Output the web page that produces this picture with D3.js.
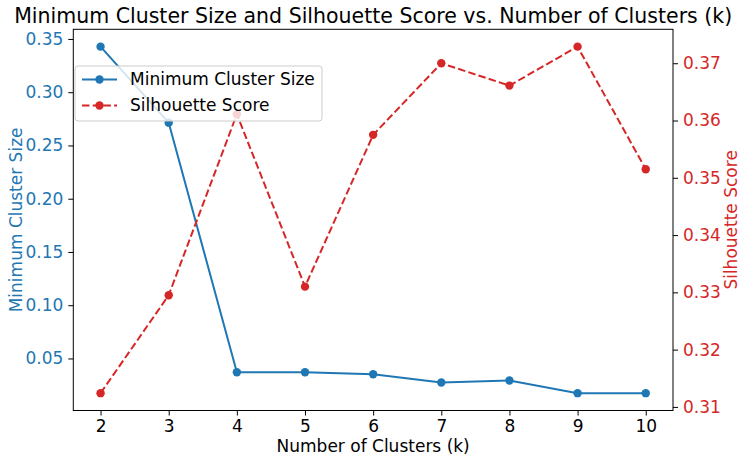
<!DOCTYPE html>
<html>
<head>
<meta charset="utf-8">
<script src="https://cdn.jsdelivr.net/npm/d3@7"></script>
<style>
  body { margin: 0; background: #fff; }
  svg { font-family: "DejaVu Sans", sans-serif; }
</style>
</head>
<body>
<svg id="chart" width="747" height="463"></svg>
<script>
const kValues = [2, 3, 4, 5, 6, 7, 8, 9, 10];
const minClusterSize = [0.3428, 0.2714, 0.0371, 0.0371, 0.0352, 0.0274, 0.0293, 0.0174, 0.0174];
const silhouette = [0.3124, 0.3295, 0.3611, 0.3310, 0.3575, 0.3700, 0.3661, 0.3729, 0.3515];
const leftTicks = [0.05, 0.10, 0.15, 0.20, 0.25, 0.30, 0.35];
const rightTicks = [0.31, 0.32, 0.33, 0.34, 0.35, 0.36, 0.37];

const blue = "#1f77b4", red = "#d62728";
const plotL = 73.3, plotR = 673, plotT = 29.3, plotB = 410.5;

const svg = d3.select("#chart");

// matplotlib-style 5% margins
function padded(vals) {
  const lo = d3.min(vals), hi = d3.max(vals), m = (hi - lo) * 0.05;
  return [lo - m, hi + m];
}

const x = d3.scaleLinear().domain(padded(kValues)).range([plotL, plotR]);
const yL = d3.scaleLinear().domain(padded(minClusterSize)).range([plotB, plotT]);
const yR = d3.scaleLinear().domain(padded(silhouette)).range([plotB, plotT]);

// axes
const xAxis = svg.append("g")
  .attr("transform", `translate(0,${plotB})`)
  .call(d3.axisBottom(x).tickValues(kValues).tickFormat(d3.format("d")).tickSizeOuter(0).tickSize(5).tickPadding(4));
const lAxis = svg.append("g")
  .attr("transform", `translate(${plotL},0)`)
  .call(d3.axisLeft(yL).tickValues(leftTicks).tickFormat(d3.format(".2f")).tickSizeOuter(0).tickSize(5).tickPadding(5));
const rAxis = svg.append("g")
  .attr("transform", `translate(${plotR},0)`)
  .call(d3.axisRight(yR).tickValues(rightTicks).tickFormat(d3.format(".2f")).tickSizeOuter(0).tickSize(5).tickPadding(5));

[xAxis, lAxis, rAxis].forEach(g => {
  g.select(".domain").remove();
  g.selectAll(".tick line").attr("stroke", "#000").attr("stroke-width", 1);
  g.selectAll(".tick text").style("font-size", "17px").style("font-family", "DejaVu Sans");
});
xAxis.selectAll(".tick text").attr("fill", "#000");
lAxis.selectAll(".tick text").attr("fill", blue);
rAxis.selectAll(".tick text").attr("fill", red);

// frame
svg.append("rect")
  .attr("x", plotL).attr("y", plotT)
  .attr("width", plotR - plotL).attr("height", plotB - plotT)
  .attr("fill", "none").attr("stroke", "#000").attr("stroke-width", 1);

// lines
const lineL = d3.line().x((d, i) => x(kValues[i])).y(d => yL(d));
const lineR = d3.line().x((d, i) => x(kValues[i])).y(d => yR(d));

svg.append("path").datum(minClusterSize)
  .attr("d", lineL).attr("fill", "none")
  .attr("stroke", blue).attr("stroke-width", 2);
svg.selectAll(".ptL").data(minClusterSize).enter().append("circle")
  .attr("cx", (d, i) => x(kValues[i])).attr("cy", d => yL(d))
  .attr("r", 4.2).attr("fill", blue);

svg.append("path").datum(silhouette)
  .attr("d", lineR).attr("fill", "none")
  .attr("stroke", red).attr("stroke-width", 2)
  .attr("stroke-dasharray", "7.5,3.2");
svg.selectAll(".ptR").data(silhouette).enter().append("circle")
  .attr("cx", (d, i) => x(kValues[i])).attr("cy", d => yR(d))
  .attr("r", 4.2).attr("fill", red);

// titles
svg.append("text")
  .attr("x", (plotL + plotR) / 2).attr("y", 22.5)
  .attr("text-anchor", "middle")
  .style("font-size", "20.5px")
  .text("Minimum Cluster Size and Silhouette Score vs. Number of Clusters (k)");

svg.append("text")
  .attr("x", (plotL + plotR) / 2).attr("y", 452)
  .attr("text-anchor", "middle")
  .style("font-size", "17px")
  .text("Number of Clusters (k)");

svg.append("text")
  .attr("transform", `translate(22,${(plotT + plotB) / 2}) rotate(-90)`)
  .attr("text-anchor", "middle")
  .attr("fill", blue)
  .style("font-size", "17px")
  .text("Minimum Cluster Size");

svg.append("text")
  .attr("transform", `translate(737,${(plotT + plotB) / 2}) rotate(-90)`)
  .attr("text-anchor", "middle")
  .attr("fill", red)
  .style("font-size", "17px")
  .text("Silhouette Score");

// legend
const legend = svg.append("g").attr("transform", "translate(75,66)");
legend.append("rect")
  .attr("width", 247).attr("height", 55).attr("rx", 3)
  .attr("fill", "#fff").attr("fill-opacity", 0.8)
  .attr("stroke", "#ccc").attr("stroke-width", 1);

const legendItems = [
  { label: "Minimum Cluster Size", color: blue, dash: null },
  { label: "Silhouette Score", color: red, dash: "7.5,3.2" }
];
const item = legend.selectAll(".item").data(legendItems).enter().append("g")
  .attr("transform", (d, i) => `translate(0,${13.5 + i * 26})`);
item.append("line")
  .attr("x1", 7).attr("x2", 42)
  .attr("stroke", d => d.color).attr("stroke-width", 2)
  .attr("stroke-dasharray", d => d.dash);
item.append("circle").attr("cx", 24.5).attr("r", 4.2).attr("fill", d => d.color);
item.append("text")
  .attr("x", 55).attr("dy", "0.35em")
  .style("font-size", "17px")
  .text(d => d.label);
</script>
</body>
</html>
